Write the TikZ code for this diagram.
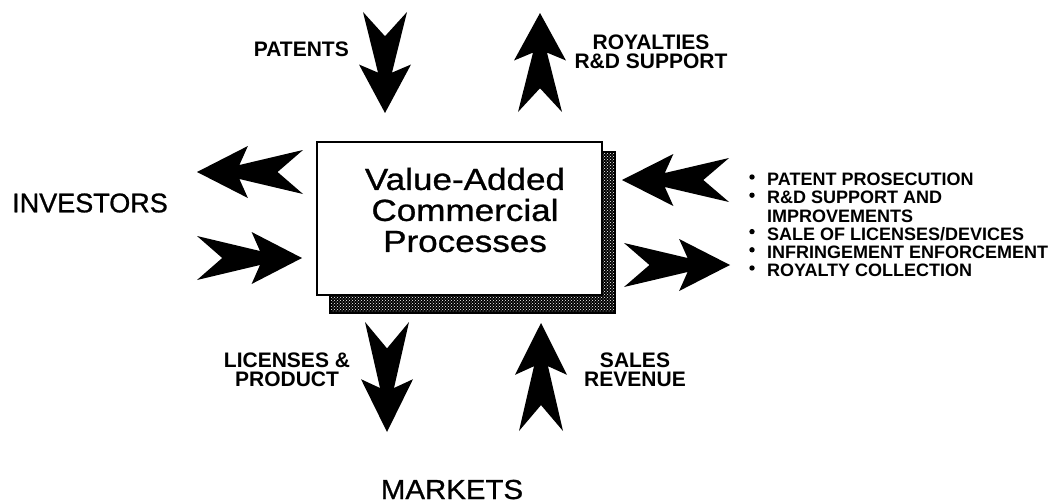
\documentclass[tikz,border=0pt]{standalone}
\usepackage{fontspec}
\setmainfont{Liberation Sans}
\newfontfamily\widesans[FakeStretch=1.15,FakeBold=0.9]{Liberation Sans}
\newfontfamily\medsans[FakeBold=0.9]{Liberation Sans}
\newfontfamily\medwide[FakeStretch=1.07,FakeBold=0.9]{Liberation Sans}
\usetikzlibrary{patterns}

% flow arrow: double chevron, drawn from its tail along the given angle
\newcommand\fletch[3]{%
  \fill[shift={#1},rotate=#2,xscale=#3/100]
    (0,-22) -- (24,0) -- (0,22) -- (60,7) -- (52,26) -- (100,0)
    -- (52,-26) -- (60,-7) -- cycle;}

\tikzset{
  lbl/.style={font=\bfseries\fontsize{21}{19}\selectfont, align=center, inner sep=0pt},
  bigword/.style={font=\medsans\fontsize{27}{30}\selectfont, inner sep=0pt},
  listtext/.style={font=\bfseries\fontsize{18}{18.2}\selectfont, align=left, inner sep=0pt},
  titletext/.style={font=\widesans\fontsize{30.5}{31}\selectfont, align=center, inner sep=0pt},
  mainbox/.style={draw, line width=2.5pt, fill=white, minimum width=285pt, minimum height=153pt, inner sep=0pt},
  dot/.style={fill=black},
}

\begin{document}
\begin{tikzpicture}[x=1pt,y=-1pt]
\useasboundingbox (0,0) rectangle (1055,503);

% stippled shadow behind the process box
\fill[black] (330,152) rectangle (615,313);
\fill[pattern=crosshatch dots, pattern color=white] (330,152) rectangle (615,313);
\draw[line width=2.5pt] (330,152) rectangle (615,313);

% process box and its title
\node[mainbox] (core) at (459.5,218.5) {};
\node[titletext] (title) at (465,210) {Value-Added\\Commercial\\Processes};

% arrow tails
\coordinate (patT) at (385,12);
\coordinate (royT) at (540,112);
\coordinate (invOutT) at (303,172);
\coordinate (invInT) at (197,258);
\coordinate (srvInT) at (729,180);
\coordinate (srvOutT) at (624,265);
\coordinate (licT) at (387,322);
\coordinate (salT) at (541,431);

\fletch{(patT)}{270}{101}
\fletch{(royT)}{90}{99}
\fletch{(invOutT)}{180}{106}
\fletch{(invInT)}{0}{105}
\fletch{(srvInT)}{180}{107}
\fletch{(srvOutT)}{0}{106}
\fletch{(licT)}{270}{110}
\fletch{(salT)}{90}{108}

% labels
\node[lbl, anchor=base east] (patents) at (349,57) {PATENTS};
\node[lbl] (royalties) at (651,51.5) {ROYALTIES\\R\&D SUPPORT};
\node[lbl] (licenses) at (287,369.5) {LICENSES \&\\PRODUCT};
\node[lbl] (sales) at (635,369.5) {SALES\\REVENUE};
\node[bigword] (investors) at (90,203) {INVESTORS};
\node[bigword, font=\medwide\fontsize{27.5}{30}\selectfont, anchor=base] (markets) at (452,499) {MARKETS};

% service list with its bullets
\node[listtext, anchor=north west] (services) at (767,173) {%
PATENT PROSECUTION\\
R\&D SUPPORT AND\\
IMPROVEMENTS\\
SALE OF LICENSES/DEVICES\\
INFRINGEMENT ENFORCEMENT\\
ROYALTY COLLECTION};
\foreach \row in {0,1,3,4,5}
  \fill[dot] (752,177+18.2*\row) circle (2.7pt);
\end{tikzpicture}
\end{document}
